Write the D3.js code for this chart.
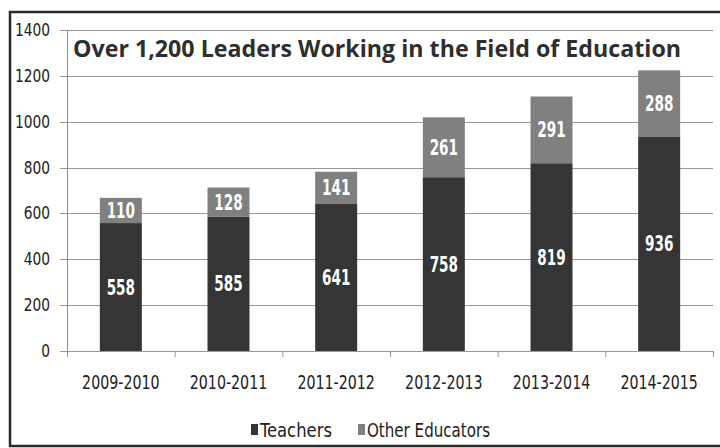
<!DOCTYPE html>
<html>
<head>
<meta charset="utf-8">
<script src="https://cdn.jsdelivr.net/npm/d3@7"></script>
<style>
  html, body { margin: 0; padding: 0; background: #fff; }
  svg { display: block; }
</style>
</head>
<body>
<script>
// School years and counts of program leaders in each role
const years = ["2009-2010", "2010-2011", "2011-2012", "2012-2013", "2013-2014", "2014-2015"];
const teachers = [558, 585, 641, 758, 819, 936];
const otherEducators = [110, 128, 141, 261, 291, 288];
const yTicks = [0, 200, 400, 600, 800, 1000, 1200, 1400];
const seriesNames = ["Teachers", "Other Educators"];
const seriesColors = ["#353535", "#808080"];
const title = "Over 1,200 Leaders Working in the Field of Education";

const W = 720, H = 448;
const margin = { left: 67, right: 7, top: 30, bottom: 97 };
const NARROW = "'DejaVu Sans Condensed', 'Liberation Sans Narrow', sans-serif";

// squeeze text horizontally to mimic a condensed typeface
function condense(sel, factor) {
  sel.each(function () {
    const len = this.getComputedTextLength();
    d3.select(this).attr("textLength", len * factor).attr("lengthAdjust", "spacingAndGlyphs");
  });
}

const svg = d3.select("body").append("svg")
  .attr("width", W).attr("height", H);

// outer frame (right edge runs just past the page)
svg.append("rect")
  .attr("x", 10).attr("y", 12)
  .attr("width", W).attr("height", H - 14)
  .attr("fill", "none").attr("stroke", "#2a2a2a").attr("stroke-width", 2.5);

const x = d3.scaleBand()
  .domain(years)
  .range([margin.left, W - margin.right])
  .paddingInner(0.61).paddingOuter(0.305);

const y = d3.scaleLinear()
  .domain([0, 1400])
  .range([H - margin.bottom, margin.top]);

// horizontal gridlines with left tick marks
svg.append("g").selectAll("line")
  .data(yTicks)
  .join("line")
  .attr("x1", margin.left - 7).attr("x2", W - margin.right)
  .attr("y1", d => Math.round(y(d)) + 0.5).attr("y2", d => Math.round(y(d)) + 0.5)
  .attr("stroke", "#999").attr("stroke-width", 1);

// y axis labels
const yAxis = svg.append("g")
  .attr("transform", `translate(${margin.left},0)`)
  .call(d3.axisLeft(y).tickValues(yTicks).tickFormat(d3.format("d")).tickSize(0).tickPadding(17));
yAxis.select(".domain").remove();
yAxis.selectAll("text")
  .attr("font-family", NARROW)
  .attr("font-size", 17)
  .attr("fill", "#222")
  .call(condense, 0.9);

// y axis line
svg.append("line")
  .attr("x1", margin.left + 0.5).attr("x2", margin.left + 0.5)
  .attr("y1", margin.top).attr("y2", y(0) + 6)
  .attr("stroke", "#8a8a8a");

// category boundary ticks along the baseline
const step = x.step();
svg.append("g").selectAll("line")
  .data(d3.range(years.length + 1))
  .join("line")
  .attr("x1", i => margin.left + i * step + 0.5)
  .attr("x2", i => margin.left + i * step + 0.5)
  .attr("y1", y(0)).attr("y2", y(0) + 6)
  .attr("stroke", "#9a9a9a");

// stacked bars
const rows = years.map((yr, i) => ({ year: yr, Teachers: teachers[i], "Other Educators": otherEducators[i] }));
const stacked = d3.stack().keys(seriesNames)(rows);

const layers = svg.append("g").selectAll("g")
  .data(stacked)
  .join("g")
  .attr("fill", (d, i) => seriesColors[i]);

layers.selectAll("rect")
  .data(d => d)
  .join("rect")
  .attr("x", d => x(d.data.year))
  .attr("width", x.bandwidth())
  .attr("y", d => y(d[1]))
  .attr("height", d => y(d[0]) - y(d[1]));

// value labels centred in each segment
layers.selectAll("text")
  .data((d) => d.map(v => ({ v, key: d.key })))
  .join("text")
  .attr("font-family", NARROW)
  .attr("x", d => x(d.v.data.year) + x.bandwidth() / 2)
  .attr("y", d => (y(d.v[0]) + y(d.v[1])) / 2)
  .attr("dy", "0.36em")
  .attr("text-anchor", "middle")
  .attr("font-size", 21)
  .attr("font-weight", 600)
  .attr("fill", "#fff")
  .text(d => d.v.data[d.key])
  .call(condense, 0.72);

// x axis category labels
const xAxis = svg.append("g")
  .attr("transform", `translate(0,${y(0)})`)
  .call(d3.axisBottom(x).tickSize(0).tickPadding(24));
xAxis.select(".domain").remove();
xAxis.selectAll("text")
  .attr("font-family", NARROW)
  .attr("font-size", 20)
  .attr("fill", "#222")
  .call(condense, 0.79);

// title
svg.append("text")
  .attr("x", 73).attr("y", 57)
  .attr("font-family", "'Open Sans', 'DejaVu Sans', sans-serif")
  .attr("font-weight", "bold")
  .attr("font-size", 23)
  .attr("fill", "#2e2e2e")
  .attr("textLength", 608)
  .attr("lengthAdjust", "spacingAndGlyphs")
  .text(title);

// legend
const legend = svg.append("g").attr("transform", "translate(251,430)");
const legendX = [0, 107];
const legendW = [72, 123];
seriesNames.forEach((name, i) => {
  const g = legend.append("g").attr("transform", `translate(${legendX[i]},0)`);
  g.append("rect").attr("x", 0).attr("y", -6).attr("width", 7).attr("height", 11)
    .attr("fill", seriesColors[i]);
  g.append("text")
    .attr("font-family", NARROW)
    .attr("x", 9).attr("y", 0).attr("dy", "0.36em")
    .attr("font-size", 19).attr("fill", "#222")
    .attr("textLength", legendW[i]).attr("lengthAdjust", "spacingAndGlyphs")
    .text(name);
});
</script>
</body>
</html>
